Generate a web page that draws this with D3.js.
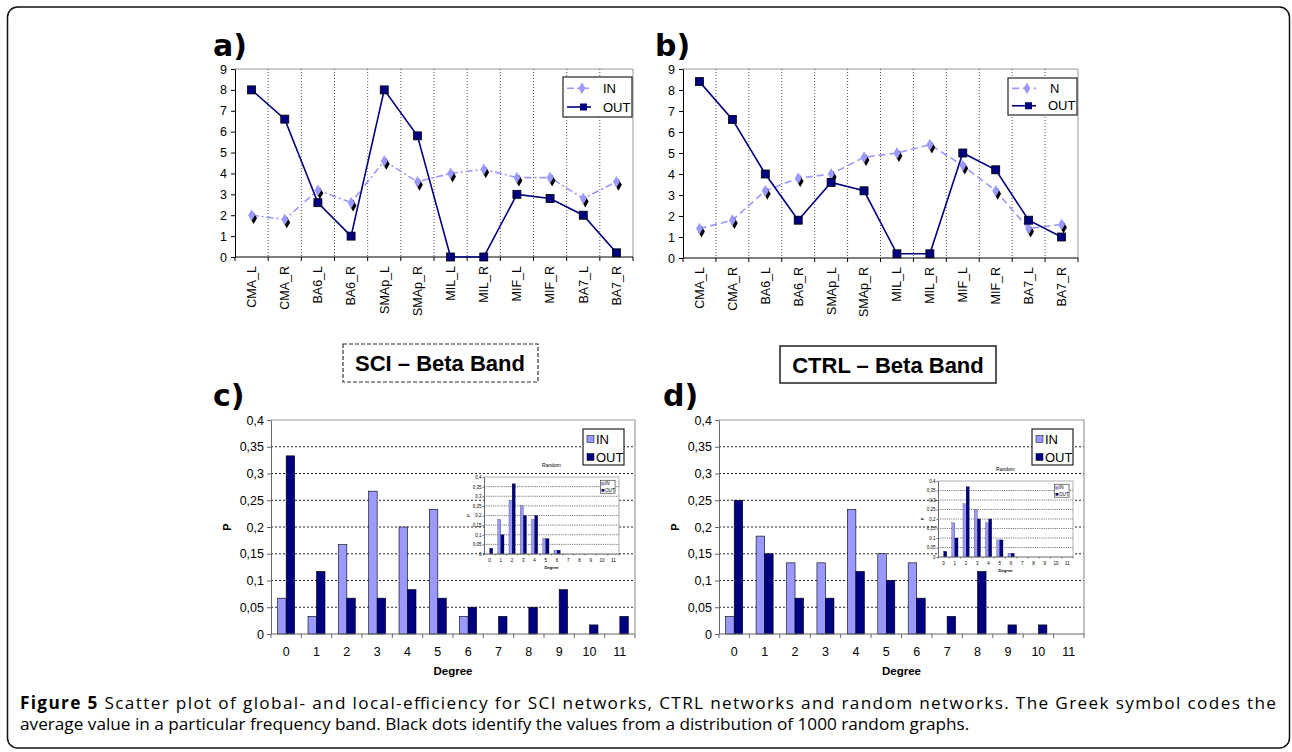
<!DOCTYPE html>
<html>
<head>
<meta charset="UTF-8">
<script src="https://cdn.jsdelivr.net/npm/d3@7"></script>
<style>
body { margin: 0; background: #fff; }
svg { display: block; font-family: "Liberation Sans", Arial, sans-serif; }
</style>
</head>
<body>
<script>
// ---- data ----
var regions = ["CMA_L", "CMA_R", "BA6_L", "BA6_R", "SMAp_L", "SMAp_R", "MIL_L", "MIL_R", "MIF_L", "MIF_R", "BA7_L", "BA7_R"];
var sciIn   = [2, 1.8, 3.2, 2.6, 4.6, 3.6, 4, 4.2, 3.8, 3.8, 2.8, 3.6];
var sciOut  = [8, 6.6, 2.6, 1, 8, 5.8, 0, 0, 3, 2.8, 2, 0.2];
var ctrlIn  = [1.4, 1.8, 3.2, 3.8, 4, 4.8, 5, 5.4, 4.4, 3.2, 1.4, 1.6];
var ctrlOut = [8.4, 6.6, 4, 1.8, 3.6, 3.2, 0.2, 0.2, 5, 4.2, 1.8, 1];

var degrees = [0, 1, 2, 3, 4, 5, 6, 7, 8, 9, 10, 11];
var sciDegIn   = [0.067, 0.033, 0.167, 0.267, 0.2, 0.233, 0.033, 0, 0, 0, 0, 0];
var sciDegOut  = [0.333, 0.117, 0.067, 0.067, 0.083, 0.067, 0.05, 0.033, 0.05, 0.083, 0.017, 0.033];
var ctrlDegIn  = [0.033, 0.183, 0.133, 0.133, 0.233, 0.15, 0.133, 0, 0, 0, 0, 0];
var ctrlDegOut = [0.25, 0.15, 0.067, 0.067, 0.117, 0.1, 0.067, 0.033, 0.117, 0.017, 0.017, 0];
var randSciIn   = [0, 0.18, 0.28, 0.25, 0.18, 0.08, 0.02, 0, 0, 0, 0, 0];
var randSciOut  = [0.03, 0.1, 0.365, 0.2, 0.2, 0.08, 0.02, 0, 0, 0, 0, 0];
var randCtrlIn  = [0, 0.18, 0.28, 0.25, 0.18, 0.09, 0.02, 0, 0, 0, 0, 0];
var randCtrlOut = [0.03, 0.1, 0.37, 0.2, 0.2, 0.09, 0.02, 0, 0, 0, 0, 0];

var lineTicks = [0, 1, 2, 3, 4, 5, 6, 7, 8, 9];
var barTicks  = [0, 0.05, 0.1, 0.15, 0.2, 0.25, 0.3, 0.35, 0.4];

var IN_COL = "#9999ff", OUT_COL = "#000080";
var comma = function(d) { return String(d).replace(".", ","); };

var svg = d3.select("body").append("svg")
    .attr("width", 1292)
    .attr("height", 752);

// outer frame
svg.append("rect")
    .attr("x", 7.5).attr("y", 7).attr("width", 1282).attr("height", 741)
    .attr("rx", 10)
    .attr("fill", "none").attr("stroke", "#111").attr("stroke-width", 1.5);

function lineChart(c) {
    var g = svg.append("g");
    var x = d3.scaleBand().domain(regions).range([c.left, c.right]);
    var y = d3.scaleLinear().domain([0, 9]).range([c.bottom, c.top]);
    var bw = x.bandwidth();

    g.append("path")
        .attr("d", "M" + c.left + "," + c.top + "H" + c.right + "V" + c.bottom)
        .attr("fill", "none").attr("stroke", "#999");

    g.selectAll(".vg").data(regions.slice(1)).join("line")
        .attr("x1", d => x(d)).attr("x2", d => x(d))
        .attr("y1", c.top).attr("y2", c.bottom)
        .attr("stroke", "#555").attr("stroke-dasharray", "1,2");

    var ya = g.append("g")
        .attr("transform", "translate(" + c.left + ",0)")
        .call(d3.axisLeft(y).tickValues(lineTicks).tickSize(4).tickSizeOuter(0).tickPadding(4).tickFormat(d3.format("d")));
    ya.select(".domain").attr("stroke", "#000");
    ya.selectAll("text").style("font-size", "12.5px").style("font-family", "Liberation Sans").attr("fill", "#000");

    g.append("line")
        .attr("x1", c.left).attr("x2", c.right)
        .attr("y1", c.bottom).attr("y2", c.bottom)
        .attr("stroke", "#000");
    g.selectAll(".xt").data(regions.concat(["end"])).join("line")
        .attr("x1", d => d === "end" ? c.right : x(d))
        .attr("x2", d => d === "end" ? c.right : x(d))
        .attr("y1", c.bottom).attr("y2", c.bottom + 4)
        .attr("stroke", "#000");
    g.selectAll(".xl").data(regions).join("text")
        .attr("transform", d => "translate(" + (x(d) + bw / 2) + "," + (c.bottom + 9) + ") rotate(-90)")
        .attr("text-anchor", "end")
        .attr("dy", "0.35em")
        .style("font-size", "12.5px")
        .text(d => d);

    var px = (d, i) => x(regions[i]) + bw / 2;
    var line = d3.line().x(px).y(d => y(d));

    g.append("path").datum(c.inVals)
        .attr("d", line).attr("fill", "none")
        .attr("stroke", IN_COL).attr("stroke-width", 1.6)
        .attr("stroke-dasharray", c.inDash);
    g.append("path").datum(c.outVals)
        .attr("d", line).attr("fill", "none")
        .attr("stroke", OUT_COL).attr("stroke-width", 1.6);

    var dia = d3.symbol().type(d3.symbolDiamond).size(40);
    g.selectAll(".dsh").data(c.inVals).join("path")
        .attr("d", dia)
        .attr("transform", (d, i) => "translate(" + (px(d, i) + 2) + "," + (y(d) + 3) + ")")
        .attr("fill", "#000");
    g.selectAll(".dia").data(c.inVals).join("path")
        .attr("d", dia)
        .attr("transform", (d, i) => "translate(" + px(d, i) + "," + y(d) + ")")
        .attr("fill", IN_COL);
    g.selectAll(".sq").data(c.outVals).join("rect")
        .attr("x", (d, i) => px(d, i) - 4).attr("y", d => y(d) - 4)
        .attr("width", 8).attr("height", 8)
        .attr("fill", OUT_COL).attr("stroke", "#000").attr("stroke-width", 0.8);

    // legend
    var L = c.legend;
    var lg = g.append("g");
    lg.append("rect").attr("x", L.x).attr("y", L.y).attr("width", L.w).attr("height", L.h)
        .attr("fill", "#fff").attr("stroke", "#222").attr("stroke-width", 1.2);
    var r1 = L.y + L.h * 0.28, r2 = L.y + L.h * 0.75;
    lg.append("line").attr("x1", L.x + 4).attr("x2", L.x + 28).attr("y1", r1).attr("y2", r1)
        .attr("stroke", IN_COL).attr("stroke-width", 1.6).attr("stroke-dasharray", c.inDash);
    lg.append("path").attr("d", dia).attr("transform", "translate(" + (L.x + 19) + "," + r1 + ")").attr("fill", IN_COL);
    lg.append("line").attr("x1", L.x + 4).attr("x2", L.x + 28).attr("y1", r2).attr("y2", r2)
        .attr("stroke", OUT_COL).attr("stroke-width", 1.6);
    lg.append("rect").attr("x", L.x + 17).attr("y", r2 - 3.5).attr("width", 7).attr("height", 7).attr("fill", OUT_COL);
    lg.append("text").attr("x", L.x + (c.inLabel === "N" ? 42 : 40)).attr("y", r1).attr("dy", "0.35em")
        .style("font-size", "13px").text(c.inLabel);
    lg.append("text").attr("x", L.x + 40).attr("y", r2).attr("dy", "0.35em")
        .style("font-size", "13px").text("OUT");
}

function barChart(c) {
    var k = c.k;
    var g = svg.append("g");
    var x = d3.scaleBand().domain(degrees).range([c.left, c.right]);
    var bw = x.bandwidth();
    var sub = d3.scaleBand().domain(["in", "out"]).range([bw * 0.22, bw * 0.78]);
    var y = d3.scaleLinear().domain([0, 0.4]).range([c.bottom, c.top]);
    var fs = 12.5 * k;

    if (c.inset) {
        g.append("rect").attr("x", c.left).attr("y", c.top)
            .attr("width", c.right - c.left).attr("height", c.bottom - c.top)
            .attr("fill", "#fff");
    }

    g.selectAll(".grid").data(barTicks.slice(1, -1)).join("line")
        .attr("x1", c.left).attr("x2", c.right)
        .attr("y1", d => y(d)).attr("y2", d => y(d))
        .attr("stroke", "#222").attr("stroke-width", k < 1 ? 0.6 : 1)
        .attr("stroke-dasharray", k < 1 ? "1.2,1" : "2,2");

    g.append("path")
        .attr("d", "M" + c.left + "," + c.top + "H" + c.right + "V" + c.bottom)
        .attr("fill", "none").attr("stroke", "#999").attr("stroke-width", k < 1 ? 0.8 : 1.2);

    var bars = degrees.map((d, i) => ({ d: d, inV: c.inVals[i], outV: c.outVals[i] }));
    var grp = g.selectAll(".bg").data(bars).join("g")
        .attr("transform", d => "translate(" + x(d.d) + ",0)");
    grp.filter(d => d.inV > 0).append("rect")
        .attr("x", sub("in")).attr("width", sub.bandwidth())
        .attr("y", d => y(d.inV)).attr("height", d => c.bottom - y(d.inV))
        .attr("fill", IN_COL).attr("stroke", "#000").attr("stroke-width", 0.6 * k);
    grp.filter(d => d.outV > 0).append("rect")
        .attr("x", sub("out")).attr("width", sub.bandwidth())
        .attr("y", d => y(d.outV)).attr("height", d => c.bottom - y(d.outV))
        .attr("fill", OUT_COL).attr("stroke", "#000").attr("stroke-width", 0.6 * k);

    var ya = g.append("g")
        .attr("transform", "translate(" + c.left + ",0)")
        .call(d3.axisLeft(y).tickValues(barTicks).tickSize(4 * k).tickSizeOuter(0).tickPadding(3 * k).tickFormat(comma));
    ya.select(".domain").attr("stroke", "#666");
    ya.selectAll(".tick line").attr("stroke", "#666");
    ya.selectAll("text").style("font-size", fs + "px").style("font-family", "Liberation Sans").attr("fill", "#000");

    g.append("line")
        .attr("x1", c.left).attr("x2", c.right)
        .attr("y1", c.bottom).attr("y2", c.bottom)
        .attr("stroke", "#666");
    g.selectAll(".xt").data(degrees.concat([12])).join("line")
        .attr("x1", d => d === 12 ? c.right : x(d))
        .attr("x2", d => d === 12 ? c.right : x(d))
        .attr("y1", c.bottom).attr("y2", c.bottom + 4 * k)
        .attr("stroke", "#666");
    g.selectAll(".xl").data(degrees).join("text")
        .attr("x", d => x(d) + bw / 2).attr("y", c.bottom + 18 * k)
        .attr("dy", "0.35em").attr("text-anchor", "middle")
        .style("font-size", fs + "px").text(d => d);

    g.append("text")
        .attr("x", (c.left + c.right) / 2).attr("y", c.bottom + 37 * k)
        .attr("dy", "0.35em").attr("text-anchor", "middle")
        .style("font-size", (11.5 * k) + "px").attr("font-weight", "bold").text("Degree");
    g.append("text")
        .attr("transform", "translate(" + (c.left - 44 * k) + "," + y(0.2) + ") rotate(-90)")
        .attr("dy", "0.35em").attr("text-anchor", "middle")
        .style("font-size", (11 * k) + "px").attr("font-weight", "bold").text("P");

    // legend
    var lx = c.right - 52 * k, ly = c.top + 9 * k;
    g.append("rect").attr("x", lx).attr("y", ly).attr("width", 41 * k).attr("height", 36 * k)
        .attr("fill", "#fff").attr("stroke", "#222").attr("stroke-width", k < 1 ? 0.6 : 1.2);
    [["IN", IN_COL, 10], ["OUT", OUT_COL, 28]].forEach(function(e) {
        g.append("rect").attr("x", lx + 4 * k).attr("y", ly + (e[2] - 3.5) * k)
            .attr("width", 7 * k).attr("height", 7 * k)
            .attr("fill", e[1]).attr("stroke", "#000").attr("stroke-width", 0.5 * k);
        g.append("text").attr("x", lx + 13 * k).attr("y", ly + e[2] * k).attr("dy", "0.35em")
            .style("font-size", (13 * k) + "px").text(e[0]);
    });

    if (c.inset) {
        g.append("text").attr("x", (c.left + c.right) / 2).attr("y", c.top - 12)
            .attr("dy", "0.35em").attr("text-anchor", "middle")
            .style("font-size", "5px").text("Random");
    }
}

function panelLabel(txt, x, y) {
    svg.append("text").attr("x", x).attr("y", y)
        .style("font-family", "DejaVu Sans").attr("font-weight", "bold")
        .style("font-size", "30px").text(txt);
}

// a) and b)
panelLabel("a)", 213, 56);
lineChart({ left: 235, right: 633, top: 69, bottom: 257, inVals: sciIn, outVals: sciOut,
    inDash: "7,3,2,3", inLabel: "IN", legend: { x: 563, y: 77, w: 69, h: 40 } });
panelLabel("b)", 655, 56);
lineChart({ left: 683, right: 1078, top: 69, bottom: 258, inVals: ctrlIn, outVals: ctrlOut,
    inDash: "7,4", inLabel: "N", legend: { x: 1008, y: 78, w: 69, h: 37 } });

// band titles
svg.append("rect").attr("x", 343).attr("y", 344).attr("width", 195).attr("height", 38)
    .attr("fill", "none").attr("stroke", "#333").attr("stroke-width", 1.2).attr("stroke-dasharray", "4,2");
svg.append("text").attr("x", 440).attr("y", 363).attr("dy", "0.35em").attr("text-anchor", "middle")
    .style("font-size", "22px").attr("font-weight", "bold").text("SCI \u2013 Beta Band");
svg.append("rect").attr("x", 780).attr("y", 346).attr("width", 216).attr("height", 37)
    .attr("fill", "none").attr("stroke", "#222").attr("stroke-width", 1.5);
svg.append("text").attr("x", 888).attr("y", 365).attr("dy", "0.35em").attr("text-anchor", "middle")
    .style("font-size", "22px").attr("font-weight", "bold").text("CTRL \u2013 Beta Band");

// c) and d)
panelLabel("c)", 213, 406);
barChart({ left: 271, right: 635, top: 420, bottom: 634, k: 1, inVals: sciDegIn, outVals: sciDegOut });
barChart({ left: 484, right: 619, top: 477, bottom: 554, k: 0.36, inset: true, inVals: randSciIn, outVals: randSciOut });
panelLabel("d)", 663, 406);
barChart({ left: 719, right: 1084, top: 420, bottom: 634, k: 1, inVals: ctrlDegIn, outVals: ctrlDegOut });
barChart({ left: 938, right: 1073, top: 481, bottom: 557, k: 0.36, inset: true, inVals: randCtrlIn, outVals: randCtrlOut });

// caption
var cap1 = svg.append("text").attr("x", 20).attr("y", 709)
    .style("font-family", "Open Sans").style("font-size", "17.2px")
    .attr("textLength", 1256).attr("lengthAdjust", "spacing");
cap1.append("tspan").attr("font-weight", "bold").text("Figure 5");
cap1.append("tspan").text(" Scatter plot of global- and local-efficiency for SCI networks, CTRL networks and random networks. The Greek symbol codes the");
svg.append("text").attr("x", 20).attr("y", 730)
    .style("font-family", "Open Sans").style("font-size", "17.2px")
    .text("average value in a particular frequency band. Black dots identify the values from a distribution of 1000 random graphs.");
</script>
</body>
</html>
